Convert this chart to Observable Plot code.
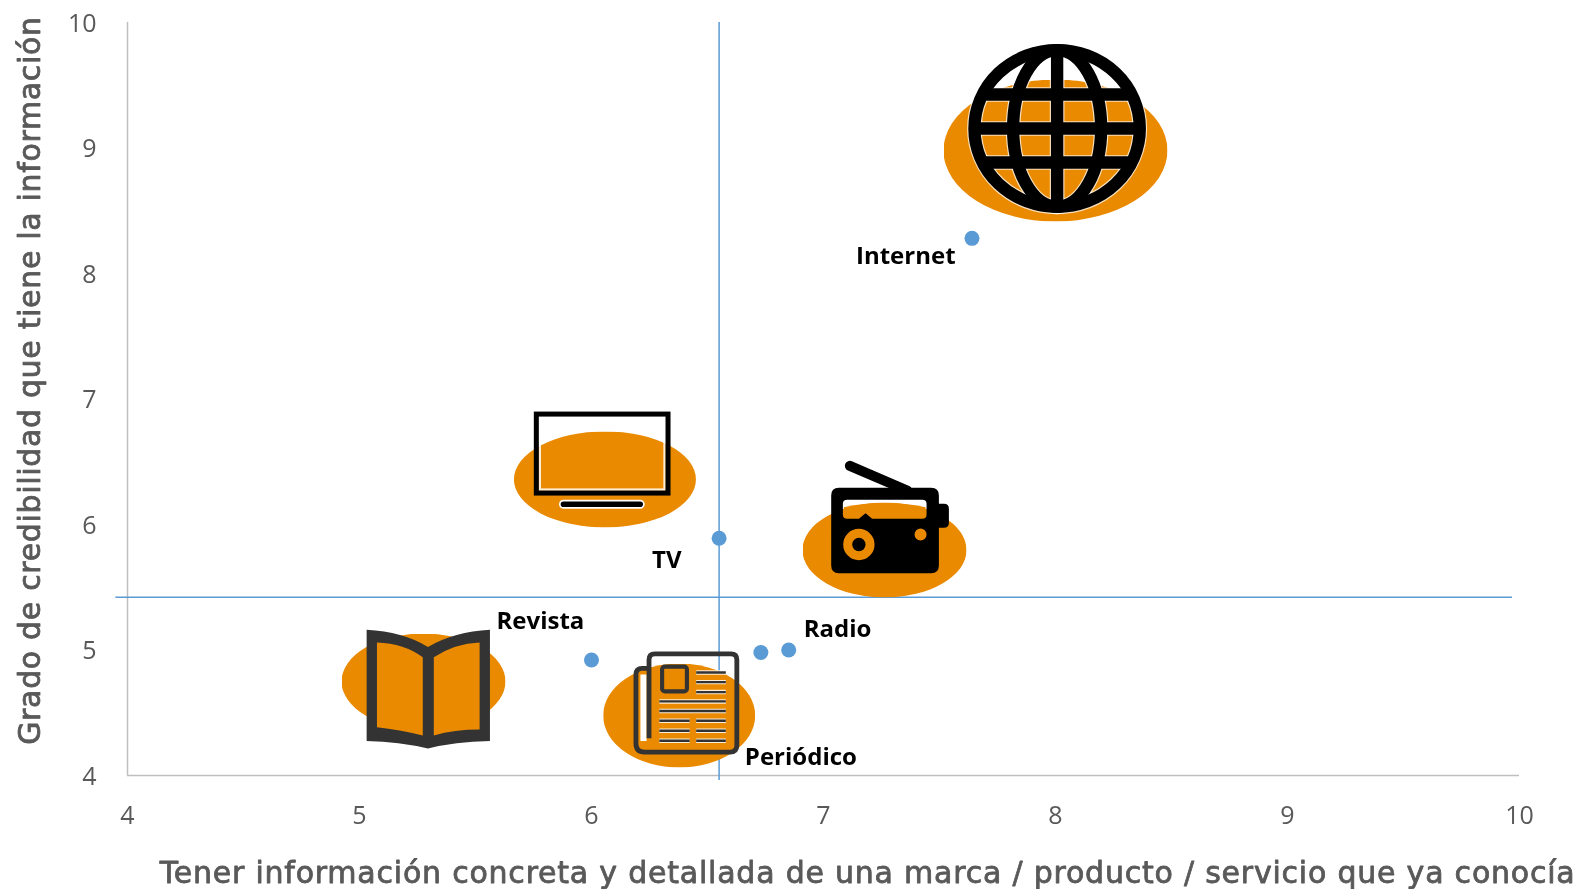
<!DOCTYPE html>
<html lang="es">
<head>
<meta charset="utf-8">
<script src="https://cdn.jsdelivr.net/npm/d3@7"></script>
<script src="https://cdn.jsdelivr.net/npm/@observablehq/plot@0.6"></script>
<style>
html,body{margin:0;padding:0;background:#fff;}
svg{filter:blur(.35px);}
</style>
</head>
<body>
<div id="chart"></div>
<script>
// Data
const medios = ["Internet","TV","Radio","Periódico","Revista"];
const valoresX = [7.64,6.55,6.85,6.73,6.0];
const valoresY = [8.28,5.89,5.0,4.98,4.92];
const lineaX = 6.55;
const lineaY = 5.42;
const ticks = [4,5,6,7,8,9,10];
const tituloX = "Tener información concreta y detallada de una marca / producto / servicio que ya conocía";
const tituloY = "Grado de credibilidad que tiene la información";

// Label offsets from each point (px)
const labelDx = [-116,-67,15,-16,-95];
const labelDy = [18,22,-21,105,-39];

// Decoration anchors in data units, sizes in px
const elipseX = [8.0,6.058,7.263,6.378,5.276];
const elipseY = [8.98,6.359,5.797,4.478,4.749];
const elipseW = [224,182,164,152,164];
const elipseH = [142,96,95,104,96];
const iconoX = [8.007,6.046,7.289,6.409,5.298];
const iconoY = [9.153,6.516,6.065,4.578,4.688];

const uri = (vb, inner) => "data:image/svg+xml," + encodeURIComponent(
  `<svg xmlns="http://www.w3.org/2000/svg" viewBox="${vb}">${inner}</svg>`);

const naranja = "#ea8a00", azul = "#5b9bd5", gris = "#595959";
const elipseSrc = uri("0 0 100 100", `<ellipse cx="50" cy="50" rx="50" ry="50" fill="${naranja}"/>`);

const globeShape = `<ellipse cx="470" cy="354" rx="248" ry="235"/><path d="M470 118V590M244 252H696M222 354H718M244 456H696"/><ellipse cx="470" cy="354" rx="132" ry="235"/>`;
const globo = uri("190 85 560 540",
  `<g fill="none" stroke="#fff" stroke-opacity=".75" stroke-width="44">${globeShape}</g><g fill="none" stroke="#000" stroke-width="37">${globeShape}</g>`);

const tv = uri("115 50 440 315",
  `<rect x="148" y="81" width="374" height="216" fill="none" stroke="#fff" stroke-opacity=".85" stroke-width="7"/>
   <rect x="137.5" y="70.5" width="395" height="237" fill="none" stroke="#000" stroke-width="15"/>
   <rect x="208" y="330" width="252" height="22" rx="11" fill="#000" stroke="#fff" stroke-width="5"/>`);

const radio = uri("1010 195 380 365",
  `<path d="M1078 226L1250 300" stroke="#000" stroke-width="30" stroke-linecap="round"/>
   <path d="M1060 350Q1180 325 1305 350V380H1060Z" fill="${naranja}"/>
   <path fill="#000" fill-rule="evenodd" d="M1045 292H1322Q1345 292 1345 315V340H1360Q1375 340 1375 355V397Q1375 412 1360 412H1345V525Q1345 548 1322 548H1045Q1022 548 1022 525V315Q1022 292 1045 292Z
   M1070 328H1295Q1308 328 1308 340V372Q1308 385 1295 385H1145L1125 368L1105 385H1070Q1057 385 1057 372V340Q1057 328 1070 328Z
   M1058 462a47 47 0 1 0 94 0a47 47 0 1 0 -94 0Z
   M1272 432a18 18 0 1 0 36 0a18 18 0 1 0 -36 0Z"/>
   <circle cx="1105" cy="462" r="20" fill="#000"/>`);

const libro = uri("95 75 380 365",
  `<path fill="${naranja}" d="M130 118Q215 120 270 160V397Q200 378 130 372Z M298 160Q360 120 438 118V378Q360 378 298 397Z"/>
   <path fill="#333" fill-rule="evenodd" d="M105 85Q210 90 283 135Q360 90 463 85V408Q360 410 283 430Q200 410 105 408Z
   M135 122Q215 125 268 165V392Q200 375 135 368Z
   M300 165Q360 125 433 122V375Q360 375 300 392Z"/>`);

const linesN = "M1062 209H1148M1062 237H1148M1062 266H1148M955 293H1148M955 321H1148M955 349H1043M1062 349H1148M955 378H1043M1062 378H1148M955 407H1043M1062 407H1148";
const periodico = uri("870 138 327 319",
  `<path d="M900 215H918V408H900Z" fill="#fff"/>
   <path d="${linesN}" stroke="#fff" stroke-opacity=".85" stroke-width="13" fill="none"/>
   <path d="${linesN}" stroke="#333" stroke-width="7" fill="none"/>
   <path d="M925 400V172Q925 155 942 155H1163Q1180 155 1180 172V420Q1180 440 1160 440H912Q887 440 887 415V215Q887 197 905 197H925" fill="none" stroke="#333" stroke-width="14"/>
   <rect x="963" y="192" width="72" height="72" rx="8" fill="none" stroke="#333" stroke-width="12"/>`);

const iconoSrc = [globo,tv,radio,periodico,libro];
const iconoW = [186.7,146.7,126.7,112.6,130.9];
const iconoH = [180,105,121.7,109.9,125.7];

const i5 = d3.range(medios.length);

const espaciado = (px) => (index, scales, values, dims, ctx, next) => {
  const g = next(index, scales, values, dims, ctx);
  d3.select(g).selectAll("text").style("letter-spacing", px + "px");
  return g;
};

const plot = Plot.plot({
  width: 1576, height: 889,
  marginLeft: 127, marginRight: 57, marginTop: 22, marginBottom: 114,
  style: {background: "#fff", fontFamily: "'Open Sans', sans-serif"},
  x: {domain: [4,10], range: [127,1519]},
  y: {domain: [4,10], range: [775,22]},
  marks: [
    Plot.ruleX([4], {stroke: "#bfbfbf", strokeWidth: 1.5}),
    Plot.ruleY([4], {stroke: "#bfbfbf", strokeWidth: 1.5}),
    Plot.ruleX([lineaX], {y1: () => 10, y2: () => 3.96, stroke: azul, strokeWidth: 1.5}),
    Plot.ruleY([lineaY], {x1: () => 3.95, x2: () => 9.97, stroke: azul, strokeWidth: 1.5}),
    Plot.image(i5, {x: i => elipseX[i], y: i => elipseY[i], width: i => elipseW[i], height: i => elipseH[i], src: () => elipseSrc, preserveAspectRatio: "none"}),
    Plot.image(i5, {x: i => iconoX[i], y: i => iconoY[i], width: i => iconoW[i], height: i => iconoH[i], src: i => iconoSrc[i], preserveAspectRatio: "none"}),
    Plot.dot(i5, {x: i => valoresX[i], y: i => valoresY[i], r: 7.5, fill: azul}),
    Plot.text(i5, {x: i => valoresX[i], y: i => valoresY[i], text: i => medios[i], textAnchor: "start", fontWeight: 700, fontSize: 24, fill: "#000",
      fontFamily: "'Open Sans', sans-serif",
      render(index, scales, values, dims, ctx, next) {
        const g = next(index, scales, values, dims, ctx);
        d3.select(g).selectAll("text").attr("transform", function(_, k) {
          const i = index[k];
          return `translate(${values.x[i] + labelDx[i]},${values.y[i] + labelDy[i]})`;
        });
        return g;
      }}),
    Plot.axisX({ticks, tickSize: 0, tickPadding: 31, fontSize: 25, color: gris, label: null, tickFormat: d3.format("d")}),
    Plot.axisY({ticks, tickSize: 0, tickPadding: 31, dy: 1, fontSize: 25, color: gris, label: null, tickFormat: d3.format("d")}),
    Plot.text([tituloX], {frameAnchor: "bottom-right", dx: 56, dy: 107, text: d => d, textAnchor: "end", fontSize: 30, fontFamily: "'DejaVu Sans', sans-serif", fill: gris, stroke: gris, strokeWidth: 0.8, render: espaciado(0.78)}),
    Plot.text([tituloY], {x: () => 4, y: () => 7.147, dx: -97, rotate: -90, text: d => d, fontSize: 30, fontFamily: "'DejaVu Sans', sans-serif", fill: gris, stroke: gris, strokeWidth: 0.8, render: espaciado(0.67)})
  ]
});
document.getElementById("chart").appendChild(plot);
</script>
</body>
</html>
